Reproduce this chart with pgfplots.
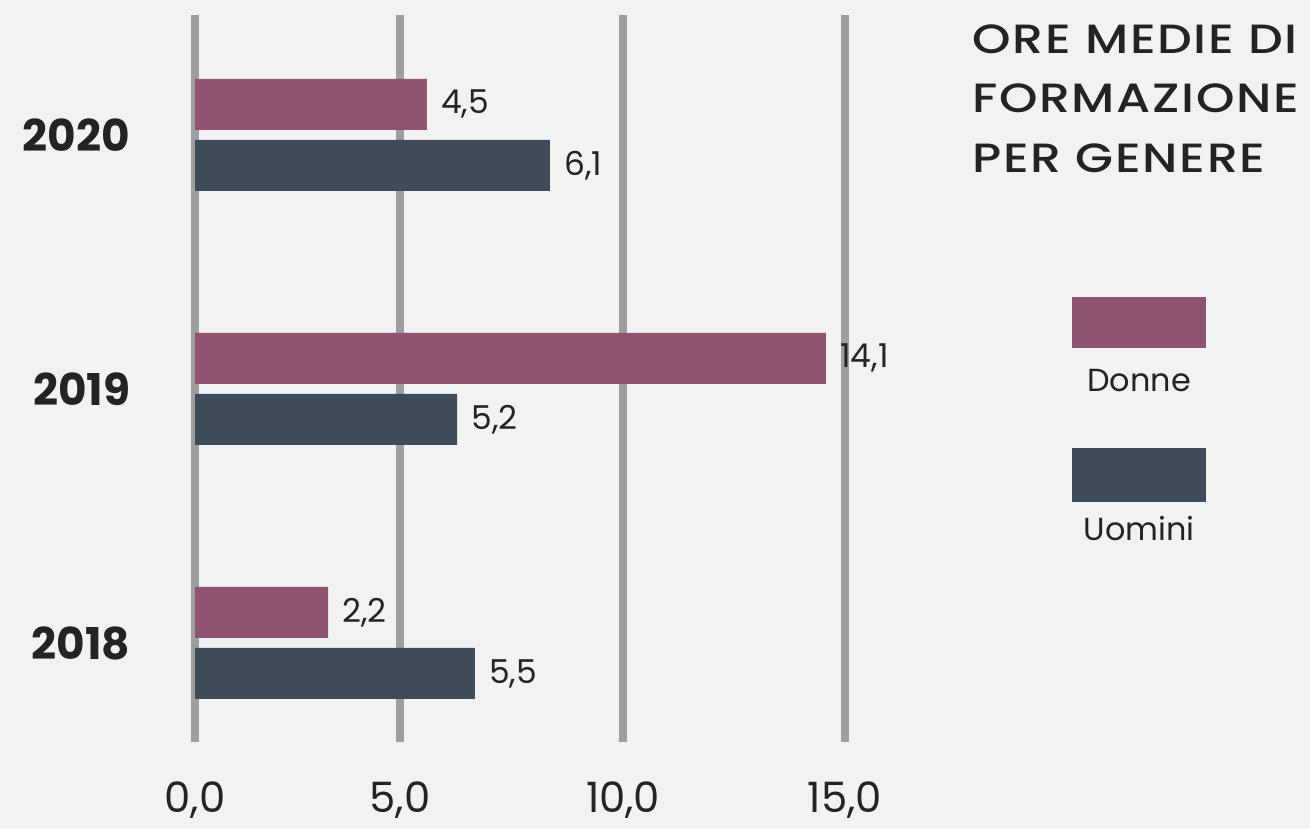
\documentclass[border=0pt]{standalone}
\usepackage{pgfplots}
\pgfplotsset{compat=1.18}
\usepackage{fontspec}
\setmainfont{Poppins}
\newfontfamily\titlefont{Poppins Medium}[LetterSpace=4, FakeStretch=1.2]
\definecolor{donne}{RGB}{142,84,112}
\definecolor{uomini}{RGB}{63,75,89}
\definecolor{gridc}{RGB}{158,158,158}
\definecolor{bgc}{RGB}{242,242,242}
\definecolor{txt}{RGB}{35,35,35}
\begin{document}
\begin{tikzpicture}[x=1bp,y=1bp]
\fill[bgc] (0,0) rectangle (655,-414.5);
\begin{axis}[
 at={(97.5bp,-371bp)}, anchor=south west,
 scale only axis, width=325bp, height=363.5bp,
 xmin=0, xmax=15, ymin=-0.39, ymax=2.472,
 xbar, bar width=25.5bp,
 axis line style={draw=none},
 major tick style={draw=none},
 xtick={0,4.73,9.88,15},
 xticklabels={{0,0},{5,0},{10,0},{15,0}},
 ytick={0,1,2}, yticklabels={2018,2019,2020},
 xmajorgrids, major grid style={gridc, line width=4.3bp},
 xticklabel style={font=\fontsize{21}{21}\selectfont, text=txt, anchor=center, yshift=-29bp},
 yticklabel style={font=\fontsize{22}{22}\selectfont\bfseries, text=txt, anchor=east, inner sep=0pt, xshift=-28bp},
 nodes near coords={\pgfplotspointmeta},
 point meta=explicit symbolic,
 nodes near coords style={anchor=west, inner sep=0pt, xshift=7bp, font=\fontsize{16.5}{16.5}\selectfont, text=txt},
 clip=false,
]
\addplot[fill=donne, draw=none, bar shift=15.25bp] table[meta=label] {
x y label
5.35 2 4,5
14.56 1 14,1
3.07 0 2,2
};
\addplot[fill=uomini, draw=none, bar shift=-15.25bp] table[meta=label] {
x y label
8.19 2 6,1
6.05 1 5,2
6.46 0 5,5
};
\end{axis}
\node[anchor=north west, align=left, font=\titlefont\fontsize{20.5}{30}\selectfont, text=txt, inner sep=0pt] at (486,-12) {ORE MEDIE DI\\FORMAZIONE\\PER GENERE};
\fill[donne] (536,-148.5) rectangle (603,-174);
\node[font=\fontsize{16}{16}\selectfont, text=txt] at (569.5,-190.5) {Donne};
\fill[uomini] (536,-224) rectangle (603,-251);
\node[font=\fontsize{16}{16}\selectfont, text=txt] at (569.5,-264) {Uomini};
\end{tikzpicture}
\end{document}
